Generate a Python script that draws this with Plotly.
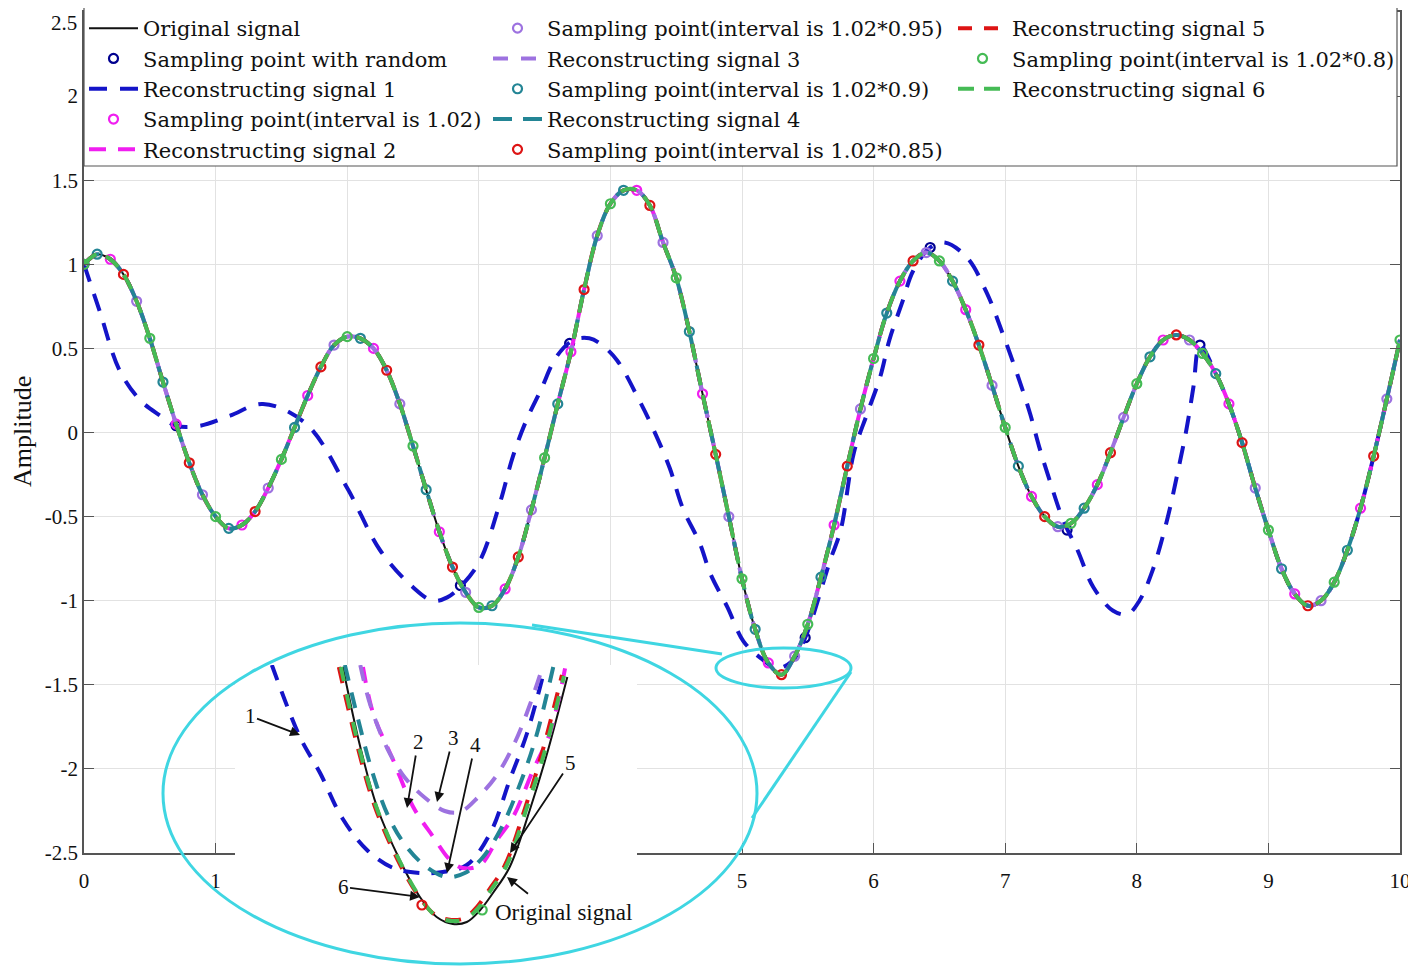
import plotly.graph_objects as go

# ---- data -------------------------------------------------------------
TIME = [i / 10 for i in range(101)]
SIGNAL = [
    1.00, 1.06, 1.03, 0.94, 0.78, 0.56, 0.30, 0.05, -0.18, -0.37,
    -0.50, -0.57, -0.55, -0.47, -0.33, -0.16, 0.03, 0.22, 0.39, 0.52,
    0.57, 0.56, 0.50, 0.37, 0.17, -0.08, -0.34, -0.59, -0.80, -0.95,
    -1.04, -1.03, -0.93, -0.74, -0.46, -0.15, 0.17, 0.48, 0.85, 1.17,
    1.36, 1.44, 1.44, 1.35, 1.13, 0.92, 0.60, 0.23, -0.13, -0.50,
    -0.87, -1.17, -1.37, -1.44, -1.33, -1.14, -0.86, -0.55, -0.20, 0.14,
    0.44, 0.71, 0.90, 1.02, 1.07, 1.02, 0.90, 0.73, 0.52, 0.28,
    0.03, -0.20, -0.38, -0.50, -0.56, -0.54, -0.45, -0.31, -0.12, 0.09,
    0.29, 0.45, 0.55, 0.58, 0.55, 0.47, 0.35, 0.17, -0.06, -0.33,
    -0.58, -0.81, -0.96, -1.03, -1.00, -0.89, -0.70, -0.45, -0.14, 0.20,
    0.55,
]

RECON1_T = [
    0.0, 0.12, 0.27, 0.43, 0.58, 0.70, 0.88, 1.11, 1.36, 1.69, 2.0, 2.25,
    2.5, 2.65, 2.76, 2.88, 3.01, 3.16, 3.26, 3.36, 3.47, 3.59, 3.72, 3.84,
    3.92, 4.05, 4.22, 4.32, 4.45, 4.55, 4.68, 4.76, 4.89, 5.01, 5.14, 5.27,
    5.38, 5.48, 5.67, 5.75, 5.85, 5.95, 6.05, 6.12, 6.22, 6.30, 6.43, 6.54,
    6.71, 6.86, 6.98, 7.09, 7.19, 7.26, 7.34, 7.44, 7.55, 7.67, 7.82, 7.93,
    8.02, 8.12, 8.23, 8.31, 8.38, 8.43, 8.48, 8.6, 8.7, 8.8, 8.9, 9.0, 9.1,
    9.2, 9.3, 9.4, 9.5, 9.6, 9.7, 9.8, 9.9, 10.0,
]
RECON1_V = [
    1.00, 0.72, 0.37, 0.19, 0.10, 0.04, 0.04, 0.10, 0.17, 0.05, -0.33, -0.70,
    -0.92, -1.00, -0.98, -0.90, -0.76, -0.42, -0.14, 0.07, 0.25, 0.45, 0.55, 0.56,
    0.53, 0.43, 0.19, 0.03, -0.21, -0.45, -0.66, -0.84, -1.04, -1.24, -1.34, -1.40,
    -1.36, -1.22, -0.76, -0.58, -0.12, 0.11, 0.33, 0.55, 0.78, 0.96, 1.10, 1.13,
    1.04, 0.83, 0.59, 0.35, 0.11, -0.09, -0.29, -0.52, -0.70, -0.92, -1.06, -1.08,
    -1.00, -0.82, -0.52, -0.24, 0.03, 0.27, 0.52, 0.35, 0.17, -0.06, -0.33, -0.58,
    -0.81, -0.96, -1.03, -1.00, -0.89, -0.70, -0.45, -0.14, 0.20, 0.55,
]

RANDOM_T = [0.0, 0.70, 2.86, 3.69, 5.48, 6.43, 7.47, 8.48]
RANDOM_V = [1.00, 0.04, -0.91, 0.53, -1.22, 1.10, -0.58, 0.52]

SAMPLE_T_102 = [0.2, 0.7, 1.2, 1.7, 2.2, 2.7, 3.2, 3.7, 4.2, 4.7, 5.2, 5.7,
                6.2, 6.7, 7.2, 7.7, 8.2, 8.7, 9.2, 9.7]
SAMPLE_T_095 = [0.4, 0.9, 1.4, 1.9, 2.4, 2.9, 3.4, 3.9, 4.4, 4.9, 5.4, 5.9,
                6.4, 6.9, 7.4, 7.9, 8.4, 8.9, 9.4, 9.9]
SAMPLE_T_090 = [0.1, 0.6, 1.1, 1.6, 2.1, 2.6, 3.1, 3.6, 4.1, 4.6, 5.1, 5.6,
                6.1, 6.6, 7.1, 7.6, 8.1, 8.6, 9.1, 9.6]
SAMPLE_T_085 = [0.3, 0.8, 1.3, 1.8, 2.3, 2.8, 3.3, 3.8, 4.3, 4.8, 5.3, 5.8,
                6.3, 6.8, 7.3, 7.8, 8.3, 8.8, 9.3, 9.8]
SAMPLE_T_080 = [0.0, 0.5, 1.0, 1.5, 2.0, 2.5, 3.0, 3.5, 4.0, 4.5, 5.0, 5.5,
                6.0, 6.5, 7.0, 7.5, 8.0, 8.5, 9.0, 9.5, 10.0]

# zoomed view around the minimum near t = 5.3
INSET_ORIG_T = [5.136, 5.162, 5.187, 5.221, 5.251, 5.276, 5.300, 5.321,
                5.341, 5.360, 5.385, 5.415, 5.441, 5.471]
INSET_ORIG_V = [-1.192, -1.272, -1.332, -1.385, -1.422, -1.442, -1.449, -1.447,
                -1.435, -1.418, -1.392, -1.335, -1.278, -1.202]
INSET_R1_T = [5.030, 5.072, 5.102, 5.135, 5.172, 5.211, 5.251, 5.285, 5.321,
              5.356, 5.385, 5.411, 5.438]
INSET_R1_V = [-1.190, -1.262, -1.298, -1.343, -1.375, -1.393, -1.398, -1.397,
              -1.390, -1.358, -1.305, -1.258, -1.192]
INSET_R2_T = [5.166, 5.181, 5.211, 5.241, 5.271, 5.296, 5.315, 5.341, 5.366,
              5.390, 5.420, 5.445, 5.468]
INSET_R2_V = [-1.192, -1.238, -1.285, -1.332, -1.362, -1.385, -1.393, -1.390,
              -1.365, -1.342, -1.295, -1.258, -1.192]
INSET_R3_T = [5.162, 5.177, 5.202, 5.229, 5.259, 5.288, 5.311, 5.338, 5.366,
              5.393, 5.415, 5.435]
INSET_R3_V = [-1.190, -1.230, -1.273, -1.303, -1.323, -1.336, -1.337, -1.322,
              -1.300, -1.267, -1.230, -1.190]
INSET_R4_T = [5.139, 5.159, 5.179, 5.203, 5.229, 5.259, 5.291, 5.318, 5.344,
              5.371, 5.397, 5.423, 5.450]
INSET_R4_V = [-1.190, -1.245, -1.295, -1.340, -1.370, -1.391, -1.402, -1.398,
              -1.383, -1.355, -1.315, -1.265, -1.192]
INSET_R5_T = [5.130, 5.158, 5.184, 5.218, 5.248, 5.274, 5.298, 5.318, 5.336,
              5.354, 5.378, 5.408, 5.434, 5.463]
INSET_R5_V = [-1.192, -1.272, -1.332, -1.385, -1.420, -1.440, -1.445, -1.443,
              -1.432, -1.415, -1.390, -1.333, -1.276, -1.200]
INSET_R6_T = [5.133, 5.160, 5.186, 5.220, 5.250, 5.275, 5.299, 5.319, 5.338,
              5.356, 5.380, 5.410, 5.437, 5.466]
INSET_R6_V = [-1.192, -1.272, -1.332, -1.385, -1.421, -1.441, -1.446, -1.444,
              -1.433, -1.416, -1.391, -1.334, -1.277, -1.201]
INSET_S085_T = [5.254]
INSET_S085_V = [-1.430]
INSET_S080_T = [5.344]
INSET_S080_V = [-1.435]

X_TICKS = [0, 1, 2, 3, 4, 5, 6, 7, 8, 9, 10]
# labels 2-4 sit under the magnified view in the reference
X_TICK_TEXT = ["0", "1", "", "", "", "5", "6", "7", "8", "9", "10"]
Y_TICKS = [2.5, 2, 1.5, 1, 0.5, 0, -0.5, -1, -1.5, -2, -2.5]
# the top label is written as an annotation so it is not clipped at the page edge
Y_TICK_TEXT = ["", "2", "1.5", "1", "0.5", "0", "-0.5", "-1", "-1.5", "-2", "-2.5"]

BLACK = "#111111"
DARK_BLUE = "#00008f"
BLUE = "#1414c8"
MAGENTA = "#f01ef0"
PURPLE = "#9d72e0"
TEAL = "#238595"
RED = "#dd1414"
GREEN = "#45bb55"
CYAN = "#3fd6e2"

FONT = "Liberation Serif"
LEGEND_FONT = "DejaVu Serif"

# the page body adds an 8 px offset, so the figure is 8 px smaller each way
PAGE_OFFSET = 8
FIG_W, FIG_H = 1416 - PAGE_OFFSET, 970 - PAGE_OFFSET

lookup = dict(zip(TIME, SIGNAL))


def px(x):
    return (x - 84) / 1316


def py(y):
    return (965 - y) / 953


fig = go.Figure()


def add_line(x, y, name, color, width, dash, legend="legend", axes=("x", "y"), show=True):
    fig.add_trace(go.Scatter(
        x=x, y=y, name=name, mode="lines", line_shape="spline",
        line=dict(color=color, width=width, dash=dash),
        legend=legend, showlegend=show, xaxis=axes[0], yaxis=axes[1],
        hoverinfo="skip",
    ))


def add_points(x, y, name, color, legend="legend", axes=("x", "y"), show=True):
    fig.add_trace(go.Scatter(
        x=x, y=y, name=name, mode="markers",
        marker=dict(symbol="circle-open", size=9, color=color, line=dict(width=2.2, color=color)),
        legend=legend, showlegend=show, xaxis=axes[0], yaxis=axes[1],
        hoverinfo="skip",
    ))


def samples(ts):
    return [lookup[t] for t in ts]


# main plot
add_line(TIME, SIGNAL, "Original signal", BLACK, 2, "solid")
add_points(RANDOM_T, RANDOM_V, "Sampling point with random", DARK_BLUE)
add_line(RECON1_T, RECON1_V, "Reconstructing signal 1", BLUE, 4, "18px,13px")
add_points(SAMPLE_T_102, samples(SAMPLE_T_102), "Sampling point(interval is 1.02)", MAGENTA)
add_line(TIME, SIGNAL, "Reconstructing signal 2", MAGENTA, 4, "17px,12px")
add_points(SAMPLE_T_095, samples(SAMPLE_T_095), "Sampling point(interval is 1.02*0.95)", PURPLE, "legend2")
add_line(TIME, SIGNAL, "Reconstructing signal 3", PURPLE, 4, "15px,13px", "legend2")
add_points(SAMPLE_T_090, samples(SAMPLE_T_090), "Sampling point(interval is 1.02*0.9)", TEAL, "legend2")
add_line(TIME, SIGNAL, "Reconstructing signal 4", TEAL, 4, "19px,11px", "legend2")
add_points(SAMPLE_T_085, samples(SAMPLE_T_085), "Sampling point(interval is 1.02*0.85)", RED, "legend2")
add_line(TIME, SIGNAL, "Reconstructing signal 5", RED, 4, "14px,12px", "legend3")
add_points(SAMPLE_T_080, samples(SAMPLE_T_080), "Sampling point(interval is 1.02*0.8)", GREEN, "legend3")
add_line(TIME, SIGNAL, "Reconstructing signal 6", GREEN, 4, "16px,10px", "legend3")

# inset
inset = ("x2", "y2")
add_line(INSET_ORIG_T, INSET_ORIG_V, "inset0", BLACK, 2, "solid", axes=inset, show=False)
add_line(INSET_R1_T, INSET_R1_V, "inset1", BLUE, 4, "16px,12px", axes=inset, show=False)
add_line(INSET_R2_T, INSET_R2_V, "inset2", MAGENTA, 4, "16px,12px", axes=inset, show=False)
add_line(INSET_R3_T, INSET_R3_V, "inset3", PURPLE, 4, "16px,12px", axes=inset, show=False)
add_line(INSET_R4_T, INSET_R4_V, "inset4", TEAL, 4, "16px,12px", axes=inset, show=False)
add_line(INSET_R5_T, INSET_R5_V, "inset5", RED, 4, "16px,12px", axes=inset, show=False)
add_line(INSET_R6_T, INSET_R6_V, "inset6", GREEN, 4, "14px,14px", axes=inset, show=False)
add_points(INSET_S085_T, INSET_S085_V, "inset s5", RED, axes=inset, show=False)
add_points(INSET_S080_T, INSET_S080_V, "inset s6", GREEN, axes=inset, show=False)

legend_top = 1 + (PAGE_OFFSET - 1.5) / FIG_H  # in container units
legend_common = dict(
    xanchor="left", yanchor="top", yref="container", y=legend_top,
    bgcolor="rgba(0,0,0,0)", borderwidth=0,
    font=dict(family=LEGEND_FONT, size=21, color=BLACK),
    itemwidth=49, tracegroupgap=0,
)

axis_common = dict(
    showgrid=True, gridcolor="#e2e2e2", gridwidth=1, zeroline=False,
    showline=True, linecolor="#555555", linewidth=1.5, mirror="ticks",
    ticks="inside", ticklen=10, tickcolor="#555555", tickwidth=1.2,
    tickfont=dict(family=FONT, size=21, color=BLACK), automargin=False,
)

fig.update_layout(
    width=FIG_W, height=FIG_H,
    margin=dict(l=84 - PAGE_OFFSET, r=16, t=12 - PAGE_OFFSET, b=5, autoexpand=False),
    paper_bgcolor="white", plot_bgcolor="white",
    font=dict(family=FONT, size=21, color=BLACK),
    showlegend=True,
    legend=dict(x=px(84), **legend_common),
    legend2=dict(x=px(488), **legend_common),
    legend3=dict(x=px(953), **legend_common),
    xaxis=dict(domain=[0, 1], range=[0, 10], tickvals=X_TICKS, ticktext=X_TICK_TEXT,
               anchor="y", ticklabelstandoff=8, **axis_common),
    yaxis=dict(domain=[py(853), 1], range=[-2.5, 2.5], tickvals=Y_TICKS,
               ticktext=Y_TICK_TEXT, anchor="x", **axis_common),
    xaxis2=dict(domain=[px(235), px(637)], range=[4.975, 5.575], visible=False,
                anchor="y2", showgrid=False),
    yaxis2=dict(domain=[0, py(665)], range=[-1.49, -1.19], visible=False,
                anchor="x2", showgrid=False),
)

shapes = [
    # white ground under the inset
    dict(type="rect", xref="x2 domain", yref="y2 domain", x0=0, x1=1, y0=0, y1=1,
         fillcolor="white", line=dict(width=0), layer="below"),
    # legend frame
    dict(type="rect", xref="paper", yref="paper", x0=0, x1=px(1397), y0=py(166), y1=py(7),
         fillcolor="white", line=dict(color="#555555", width=1.2), layer="above"),
    # magnifier ellipses and connecting lines
    dict(type="circle", xref="paper", yref="paper", x0=px(163), x1=px(757), y0=py(964), y1=py(623),
         line=dict(color=CYAN, width=3), layer="above"),
    dict(type="circle", xref="paper", yref="paper", x0=px(716), x1=px(851), y0=py(688), y1=py(648),
         line=dict(color=CYAN, width=3), layer="above"),
    dict(type="line", xref="paper", yref="paper", x0=px(532), y0=py(625), x1=px(722), y1=py(654),
         line=dict(color=CYAN, width=3), layer="above"),
    dict(type="line", xref="paper", yref="paper", x0=px(752), y0=py(818), x1=px(851), y1=py(672),
         line=dict(color=CYAN, width=3), layer="above"),
]
fig.update_layout(shapes=shapes)

annotations = [
    dict(text="Amplitude", xref="paper", yref="paper", x=px(22), y=py(432),
         xanchor="center", yanchor="middle", textangle=-90, showarrow=False,
         font=dict(family=FONT, size=26, color=BLACK)),
    dict(text="2.5", xref="paper", yref="paper", x=px(78), y=py(23),
         xanchor="right", yanchor="middle", showarrow=False, borderpad=0,
         font=dict(family=FONT, size=21, color=BLACK)),
    dict(text="Original signal", xref="paper", yref="paper", x=px(563), y=py(912),
         xanchor="center", yanchor="middle", showarrow=False,
         font=dict(family=FONT, size=23, color=BLACK)),
]
arrows = [
    ("1", 300, 735, 250, 716),
    ("2", 407, 808, 418, 742),
    ("3", 437, 802, 453, 738),
    ("4", 447, 873, 475, 745),
    ("5", 510, 853, 570, 763),
    ("6", 420, 897, 343, 887),
    (" ", 507, 877, 532, 897),
]
for label, hx, hy, tx, ty in arrows:
    annotations.append(dict(
        text=label, xref="paper", yref="paper", x=px(hx), y=py(hy),
        ax=tx - hx, ay=ty - hy, showarrow=True, arrowhead=2, arrowsize=1.1,
        arrowwidth=1.8, arrowcolor=BLACK, font=dict(family=FONT, size=21, color=BLACK),
    ))
fig.update_layout(annotations=annotations)

fig.write_html("out.html")
